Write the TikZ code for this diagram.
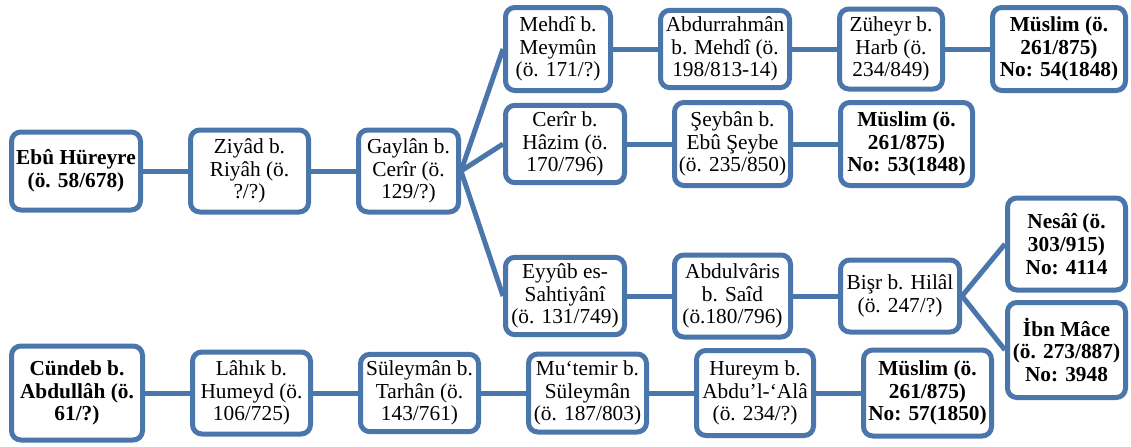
\documentclass[tikz,border=0pt]{standalone}
\usepackage{fontspec}
\setmainfont{Liberation Serif}
\usetikzlibrary{positioning}
\definecolor{isnadblue}{RGB}{74,118,172}

\begin{document}
\begin{tikzpicture}[x=0.75pt, y=-0.75pt, font=\fontsize{16}{17}\selectfont, node distance=33.75pt,
  box/.style={draw=isnadblue, fill=white, rounded corners=7pt, line width=3.75pt, align=center, inner sep=2pt},
  boldbox/.style={box, font=\fontsize{16}{17}\selectfont\bfseries},
  link/.style={draw=isnadblue, line width=3.75pt}]
\useasboundingbox (0,0) rectangle (1131,446);
% main chain
\node[boldbox, minimum width=96.75pt, minimum height=58.5pt] (ebu) at (76,171) {Ebû Hüreyre\\(ö. 58/678)};
\node[box, minimum width=88.5pt, minimum height=61.5pt, right=of ebu] (ziyad) {Ziyâd b.\\Riyâh (ö.\\?/?)};
\node[box, minimum width=75pt, minimum height=61.5pt, right=of ziyad] (gaylan) {Gaylân b.\\Cerîr (ö.\\129/?)};
% upper branch
\node[box, minimum width=78.75pt, minimum height=62.25pt, anchor=west] (mehdi) at (503,49) {Mehdî b.\\Meymûn\\(ö. 171/?)};
\node[box, minimum width=96.75pt, minimum height=58pt, right=of mehdi] (abdurrahman) {Abdurrahmân\\b. Mehdî (ö.\\198/813-14)};
\node[box, minimum width=77.25pt, minimum height=60pt, right=of abdurrahman] (zuheyr) {Züheyr b.\\Harb (ö.\\234/849)};
\node[boldbox, minimum width=99.75pt, minimum height=62.25pt, right=of zuheyr] (muslimA) {Müslim (ö.\\261/875)\\No: 54(1848)};
% middle branch
\node[box, minimum width=89.25pt, minimum height=58pt, anchor=west] (cerir) at (503,144) {Cerîr b.\\Hâzim (ö.\\170/796)};
\node[box, minimum width=87pt, minimum height=62.25pt, right=of cerir] (seyban) {Şeybân b.\\Ebû Şeybe\\(ö. 235/850)};
\node[boldbox, minimum width=99pt, minimum height=62.25pt, right=of seyban] (muslimB) {Müslim (ö.\\261/875)\\No: 53(1848)};
% lower branch
\node[box, minimum width=89.25pt, minimum height=58pt, anchor=west] (eyyub) at (503,296) {Eyyûb es-\\Sahtiyânî\\(ö. 131/749)};
\node[box, minimum width=87pt, minimum height=61.5pt, right=of eyyub] (abdulvaris) {Abdulvâris\\b. Saîd\\(ö.180/796)};
\node[box, minimum width=89.25pt, minimum height=54pt, right=of abdulvaris] (bisr) {Bişr b. Hilâl\\(ö. 247/?)};
\node[boldbox, minimum width=88.5pt, minimum height=69pt, anchor=west] (nesai) at (1005,244) {Nesâî (ö.\\303/915)\\No: 4114};
\node[boldbox, minimum width=88.5pt, minimum height=71.25pt, anchor=west] (ibnmace) at (1005,350) {İbn Mâce\\(ö. 273/887)\\No: 3948};
% second chain
\node[boldbox, minimum width=98.25pt, minimum height=70.5pt] (cundeb) at (77,393) {Cündeb b.\\Abdullâh (ö.\\61/?)};
\node[box, minimum width=88.5pt, minimum height=61.5pt, right=of cundeb] (lahik) {Lâhık b.\\Humeyd (ö.\\106/725)};
\node[box, minimum width=88.5pt, minimum height=58pt, right=of lahik] (suleyman) {Süleymân b.\\Tarhân (ö.\\143/761)};
\node[box, minimum width=88.5pt, minimum height=58.5pt, right=of suleyman] (mutemir) {Mu‘temir b.\\Süleymân\\(ö. 187/803)};
\node[box, minimum width=87.75pt, minimum height=63.75pt, right=of mutemir] (hureym) {Hureym b.\\Abdu’l-‘Alâ\\(ö. 234/?)};
\node[boldbox, minimum width=96pt, minimum height=64.5pt, right=of hureym] (muslimC) {Müslim (ö.\\261/875)\\No: 57(1850)};
% links
\draw[link] (ebu) -- (ziyad); \draw[link] (ziyad) -- (gaylan);
\draw[link] (gaylan.east) -- (mehdi.west); \draw[link] (gaylan.east) -- (cerir.west); \draw[link] (gaylan.east) -- (eyyub.west);
\draw[link] (mehdi) -- (abdurrahman); \draw[link] (abdurrahman) -- (zuheyr); \draw[link] (zuheyr) -- (muslimA);
\draw[link] (cerir) -- (seyban); \draw[link] (seyban) -- (muslimB);
\draw[link] (eyyub) -- (abdulvaris); \draw[link] (abdulvaris) -- (bisr);
\draw[link] (bisr.east) -- (nesai.west); \draw[link] (bisr.east) -- (ibnmace.west);
\draw[link] (cundeb) -- (lahik); \draw[link] (lahik) -- (suleyman); \draw[link] (suleyman) -- (mutemir); \draw[link] (mutemir) -- (hureym); \draw[link] (hureym) -- (muslimC);
\end{tikzpicture}
\end{document}
